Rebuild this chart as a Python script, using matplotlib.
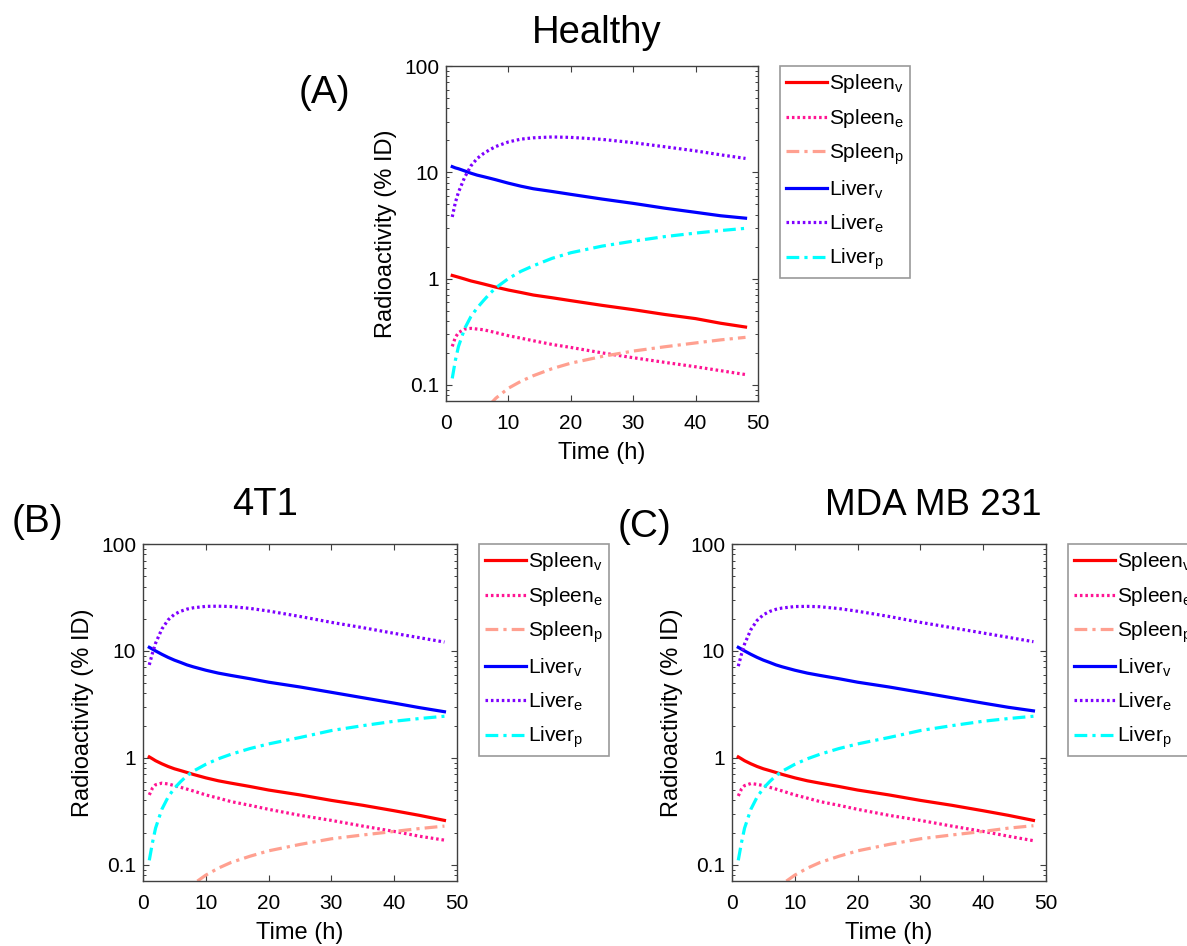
import matplotlib
matplotlib.use("Agg")
import matplotlib.pyplot as plt
from matplotlib.ticker import LogLocator, NullFormatter

plt.rcParams['font.family'] = ['Liberation Sans', 'DejaVu Sans']
plt.rcParams['mathtext.default'] = 'regular'

# time points (h)
time_h = [1, 1.5, 2, 3, 4, 5, 6, 7, 8, 10, 12, 14, 17, 20, 25, 30, 35, 40, 44, 48]

# Healthy
healthy_spleen_v = [1.07, 1.05, 1.03, 0.99, 0.95, 0.92, 0.89, 0.86, 0.83, 0.78, 0.74, 0.70, 0.66, 0.62, 0.56, 0.51, 0.46, 0.42, 0.38, 0.35]
healthy_spleen_e = [0.23, 0.28, 0.31, 0.335, 0.34, 0.335, 0.33, 0.32, 0.31, 0.29, 0.275, 0.26, 0.24, 0.225, 0.20, 0.18, 0.163, 0.148, 0.136, 0.125]
healthy_spleen_p = [0.008, 0.012, 0.016, 0.025, 0.035, 0.045, 0.055, 0.065, 0.075, 0.093, 0.108, 0.122, 0.142, 0.16, 0.185, 0.208, 0.228, 0.248, 0.265, 0.28]
healthy_liver_v = [11.3, 11.0, 10.8, 10.3, 9.8, 9.4, 9.1, 8.8, 8.5, 7.9, 7.4, 7.0, 6.6, 6.2, 5.6, 5.1, 4.6, 4.2, 3.9, 3.7]
healthy_liver_e = [3.8, 5.2, 6.5, 9.0, 11.5, 13.5, 15.0, 16.3, 17.5, 19.3, 20.5, 21.1, 21.5, 21.3, 20.4, 19.0, 17.4, 15.9, 14.6, 13.5]
healthy_liver_p = [0.115, 0.17, 0.23, 0.34, 0.44, 0.53, 0.62, 0.72, 0.82, 1.0, 1.17, 1.32, 1.55, 1.75, 2.02, 2.25, 2.48, 2.68, 2.83, 2.97]

# 4T1
t4t1_spleen_v = [1.02, 0.98, 0.94, 0.88, 0.83, 0.79, 0.76, 0.73, 0.70, 0.65, 0.61, 0.58, 0.54, 0.50, 0.45, 0.40, 0.36, 0.32, 0.29, 0.26]
t4t1_spleen_e = [0.45, 0.52, 0.56, 0.58, 0.57, 0.55, 0.53, 0.51, 0.49, 0.45, 0.42, 0.39, 0.36, 0.33, 0.29, 0.26, 0.23, 0.205, 0.185, 0.17]
t4t1_spleen_p = [0.007, 0.011, 0.015, 0.023, 0.032, 0.041, 0.050, 0.058, 0.066, 0.08, 0.093, 0.105, 0.12, 0.135, 0.155, 0.175, 0.19, 0.205, 0.218, 0.23]
t4t1_liver_v = [10.8, 10.4, 10.0, 9.3, 8.7, 8.2, 7.8, 7.4, 7.1, 6.6, 6.2, 5.9, 5.5, 5.1, 4.6, 4.1, 3.65, 3.25, 2.95, 2.7]
t4t1_liver_e = [7.4, 9.5, 11.8, 16.0, 19.5, 22.0, 23.5, 24.6, 25.3, 26.1, 26.2, 26.0, 25.0, 23.6, 21.0, 18.5, 16.5, 14.6, 13.3, 12.1]
t4t1_liver_p = [0.11, 0.16, 0.22, 0.33, 0.43, 0.52, 0.60, 0.68, 0.75, 0.87, 0.98, 1.08, 1.22, 1.35, 1.55, 1.80, 2.0, 2.2, 2.33, 2.45]

# MDA MB 231
mda_spleen_v = [1.02, 0.98, 0.94, 0.88, 0.83, 0.79, 0.76, 0.73, 0.70, 0.65, 0.61, 0.58, 0.54, 0.50, 0.45, 0.40, 0.36, 0.32, 0.29, 0.26]
mda_spleen_e = [0.44, 0.51, 0.55, 0.575, 0.565, 0.55, 0.53, 0.51, 0.49, 0.45, 0.42, 0.39, 0.36, 0.33, 0.29, 0.26, 0.23, 0.205, 0.185, 0.168]
mda_spleen_p = [0.007, 0.011, 0.015, 0.023, 0.032, 0.041, 0.050, 0.058, 0.066, 0.08, 0.093, 0.105, 0.12, 0.135, 0.155, 0.175, 0.19, 0.205, 0.22, 0.232]
mda_liver_v = [10.8, 10.4, 10.0, 9.3, 8.7, 8.2, 7.8, 7.4, 7.1, 6.6, 6.2, 5.9, 5.5, 5.1, 4.6, 4.1, 3.65, 3.25, 2.97, 2.75]
mda_liver_e = [7.2, 9.3, 11.6, 15.8, 19.3, 21.8, 23.4, 24.5, 25.2, 26.0, 26.1, 25.9, 24.9, 23.5, 21.0, 18.5, 16.5, 14.7, 13.4, 12.2]
mda_liver_p = [0.11, 0.16, 0.22, 0.33, 0.43, 0.52, 0.60, 0.68, 0.75, 0.87, 0.98, 1.08, 1.22, 1.35, 1.55, 1.80, 2.0, 2.2, 2.33, 2.45]

series_names = ['Spleen$_\\mathregular{v}$', 'Spleen$_\\mathregular{e}$', 'Spleen$_\\mathregular{p}$',
                'Liver$_\\mathregular{v}$', 'Liver$_\\mathregular{e}$', 'Liver$_\\mathregular{p}$']
colors = ['#ff0000', '#ff1493', '#ffa090', '#0000ff', '#7f00ff', '#00ffff']
dotted = (0, (0.8, 0.9))
dashdot = (0, (4, 1.6, 1, 1.6))
styles = ['-', dotted, dashdot, '-', dotted, dashdot]

W, H = 1187, 946


def px_axes(fig, left, top, right, bottom):
    return fig.add_axes([left / W, 1 - bottom / H, (right - left) / W, (bottom - top) / H])


def draw_panel(ax, data):
    for y, name, c, ls in zip(data, series_names, colors, styles):
        ax.plot(time_h, y, color=c, linestyle=ls, linewidth=2.3, label=name)
    ax.set_yscale('log')
    ax.set_xlim(0, 50)
    ax.set_ylim(0.0705, 100)
    ax.set_xticks([0, 10, 20, 30, 40, 50])
    ax.set_yticks([0.1, 1, 10, 100], labels=['0.1', '1', '10', '100'])
    ax.yaxis.set_minor_locator(LogLocator(base=10, subs=range(2, 10)))
    ax.yaxis.set_minor_formatter(NullFormatter())
    ax.tick_params(which='both', direction='in', top=True, right=True,
                   color='#404040', labelsize=15)
    ax.tick_params(axis='x', pad=9)
    ax.tick_params(axis='y', pad=5)
    ax.tick_params(which='major', length=4, width=0.8)
    ax.tick_params(which='minor', length=2.5, width=0.7)
    for s in ax.spines.values():
        s.set_color('#404040')
        s.set_linewidth(1.0)
    ax.set_xlabel('Time (h)', fontsize=17, labelpad=7)
    ax.set_ylabel('Radioactivity (% ID)', fontsize=17, labelpad=5)
    # legend sits outside the axes on the right (clipped by the page edge for panel C)
    leg = ax.legend(loc='upper left', bbox_to_anchor=(1.07, 1.0), fontsize=15,
                    frameon=True, fancybox=False, edgecolor='#808080',
                    handlelength=1.95, handletextpad=0.12, labelspacing=0.56,
                    borderpad=0.3, borderaxespad=0)
    leg.get_frame().set_linewidth(1.2)


fig = plt.figure(figsize=(W / 100, H / 100), dpi=100)

ax_a = px_axes(fig, 446, 66, 758, 401)
draw_panel(ax_a, [healthy_spleen_v, healthy_spleen_e, healthy_spleen_p,
                  healthy_liver_v, healthy_liver_e, healthy_liver_p])

ax_b = px_axes(fig, 143, 544, 457, 881)
draw_panel(ax_b, [t4t1_spleen_v, t4t1_spleen_e, t4t1_spleen_p,
                  t4t1_liver_v, t4t1_liver_e, t4t1_liver_p])

ax_c = px_axes(fig, 732, 544, 1046, 881)
draw_panel(ax_c, [mda_spleen_v, mda_spleen_e, mda_spleen_p,
                  mda_liver_v, mda_liver_e, mda_liver_p])

# titles and panel letters
fig.text(597 / W, 1 - 33 / H, 'Healthy', fontsize=27.5, ha='center', va='center')
fig.text(265 / W, 1 - 505 / H, '4T1', fontsize=27.5, ha='center', va='center')
fig.text(933 / W, 1 - 505 / H, 'MDA MB 231', fontsize=26.5, ha='center', va='center')
fig.text(324 / W, 1 - 93 / H, '(A)', fontsize=28, ha='center', va='center')
fig.text(37 / W, 1 - 522 / H, '(B)', fontsize=28, ha='center', va='center')
fig.text(645 / W, 1 - 527 / H, '(C)', fontsize=28, ha='center', va='center')

fig.savefig('out.png', dpi=100)
